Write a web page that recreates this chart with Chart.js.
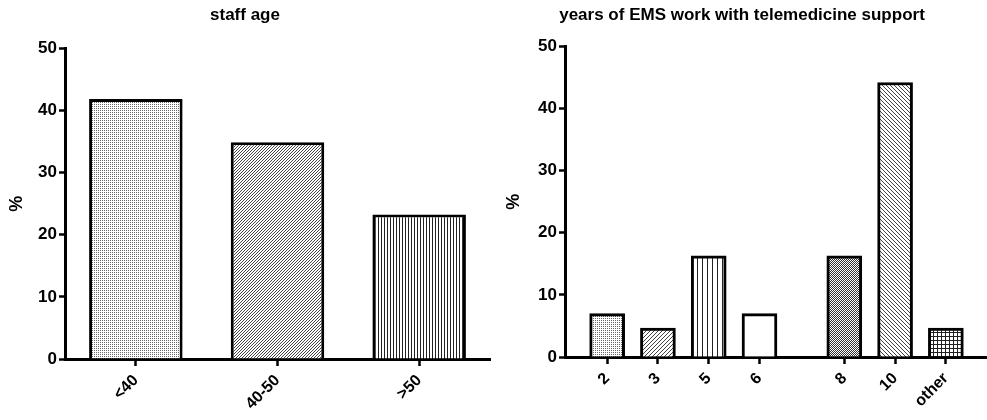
<!DOCTYPE html>
<html>
<head>
<meta charset="utf-8">
<script src="https://cdn.jsdelivr.net/npm/chart.js@4.4.1/dist/chart.umd.min.js"></script>
<style>
  body { margin: 0; background: #fff; }
  #wrap { display: flex; width: 987px; height: 420px; }
  .box { position: relative; height: 420px; }
</style>
</head>
<body>
<div id="wrap">
  <div class="box" style="width:497px"><canvas id="ageChart"></canvas></div>
  <div class="box" style="width:490px"><canvas id="yearsChart"></canvas></div>
</div>
<script>
// data (n = 43 respondents)
const ageLabels = ['<40', '40-50', '>50'];
const agePercent = [41.86, 34.88, 23.26];

const yearLabels = ['2', '3', '5', '6', '8', '10', 'other'];
const yearPercent = [6.98, 4.65, 16.28, 6.98, 16.28, 44.19, 4.65];
// slot of each bar on the x scale (gap between 6 and 8)
const yearSlots = [0, 1, 2, 3, 4.67, 5.67, 6.67];

const yMax = 50;
const yStep = 10;

const FONT = 'Liberation Sans, Arial, sans-serif';

function makePattern(ctx, w, h, draw) {
    const c = document.createElement('canvas');
    c.width = w;
    c.height = h;
    const g = c.getContext('2d');
    g.fillStyle = '#fff';
    g.fillRect(0, 0, w, h);
    g.fillStyle = '#222';
    draw(g, w, h);
    return ctx.createPattern(c, 'repeat');
}

const dots = (g) => { g.fillStyle = '#666'; g.fillRect(0, 0, 1, 1); };
const slash = (g, w) => { g.fillStyle = '#444'; for (let i = 0; i < w; i++) g.fillRect(i, w - 1 - i, 1, 1); };
const backslash = (g, w) => { g.fillStyle = '#444'; for (let i = 0; i < w; i++) g.fillRect(i, i, 1, 1); };
const vertical = (g, w, h) => { g.fillRect(0, 0, 1, h); };
const grid = (g, w, h) => { g.fillRect(0, 0, w, 1); g.fillRect(0, 0, 1, h); };
const checker = (g) => { g.fillStyle = '#333'; g.fillRect(0, 0, 1, 1); g.fillRect(1, 1, 1, 1); };

function axisY(width) {
    return {
        min: 0,
        max: yMax,
        ticks: { stepSize: yStep, color: '#000', padding: 2, font: { family: FONT, size: 17, weight: 'bold' } },
        grid: { drawOnChartArea: false, drawTicks: true, tickLength: 6, tickColor: '#000', tickWidth: 2.5 },
        border: { display: true, color: '#000', width: 3 },
        title: { display: true, text: '%', color: '#000', padding: { top: 6, bottom: 0 }, font: { family: FONT, size: 18, weight: 'bold' } },
        afterFit: s => { s.width = width; }
    };
}

function xGrid() {
    return { drawOnChartArea: false, drawTicks: true, offset: false, tickLength: 7, tickColor: '#000', tickWidth: 2.5 };
}

const xTickFont = { family: FONT, size: 16, weight: 'bold' };
const titleFont = { family: FONT, size: 17, weight: 'bold' };

// left: staff age
const ctxA = document.getElementById('ageChart').getContext('2d');
new Chart(ctxA, {
    type: 'bar',
    data: {
        labels: ageLabels,
        datasets: [{
            data: agePercent,
            backgroundColor: [
                makePattern(ctxA, 2, 2, dots),
                makePattern(ctxA, 3, 3, slash),
                makePattern(ctxA, 3, 3, vertical)
            ],
            borderColor: '#000',
            borderWidth: 3,
            categoryPercentage: 1,
            barPercentage: 0.66
        }]
    },
    options: {
        responsive: true,
        maintainAspectRatio: false,
        animation: false,
        layout: { padding: { left: 0, right: 7, top: 0, bottom: 0 } },
        plugins: {
            legend: { display: false },
            tooltip: { enabled: false },
            title: { display: true, text: 'staff age', color: '#000', padding: { top: 5, bottom: 23 }, font: titleFont }
        },
        scales: {
            x: {
                ticks: { color: '#000', minRotation: 45, maxRotation: 45, padding: 5, font: xTickFont },
                grid: xGrid(),
                border: { display: true, color: '#000', width: 3 },
                afterFit: s => { s.height = 61; }
            },
            y: axisY(65)
        }
    }
});

// right: years of EMS work
const ctxB = document.getElementById('yearsChart').getContext('2d');
new Chart(ctxB, {
    type: 'bar',
    data: {
        datasets: [{
            data: yearSlots.map((x, i) => ({ x: x, y: yearPercent[i] })),
            backgroundColor: [
                makePattern(ctxB, 2, 2, dots),
                makePattern(ctxB, 4, 4, slash),
                makePattern(ctxB, 5, 5, vertical),
                '#fff',
                makePattern(ctxB, 2, 2, checker),
                makePattern(ctxB, 4, 4, backslash),
                makePattern(ctxB, 4, 4, grid)
            ],
            borderColor: '#000',
            borderWidth: 3,
            barThickness: 35
        }]
    },
    options: {
        responsive: true,
        maintainAspectRatio: false,
        animation: false,
        layout: { padding: { left: 0, right: 0, top: 0, bottom: 0 } },
        plugins: {
            legend: { display: false },
            tooltip: { enabled: false },
            title: { display: true, text: 'years of EMS work with telemedicine support', color: '#000', padding: { top: 5, bottom: 21 }, font: titleFont }
        },
        scales: {
            x: {
                type: 'linear',
                offset: false,
                min: -0.83,
                max: 7.48,
                afterBuildTicks: s => { s.ticks = yearSlots.map(v => ({ value: v })); },
                ticks: { color: '#000', minRotation: 45, maxRotation: 45, padding: 5, font: xTickFont,
                         callback: (v, i) => yearLabels[i] },
                grid: xGrid(),
                border: { display: true, color: '#000', width: 3 },
                afterFit: s => { s.height = 63; }
            },
            y: axisY(68)
        }
    }
});
</script>
</body>
</html>
